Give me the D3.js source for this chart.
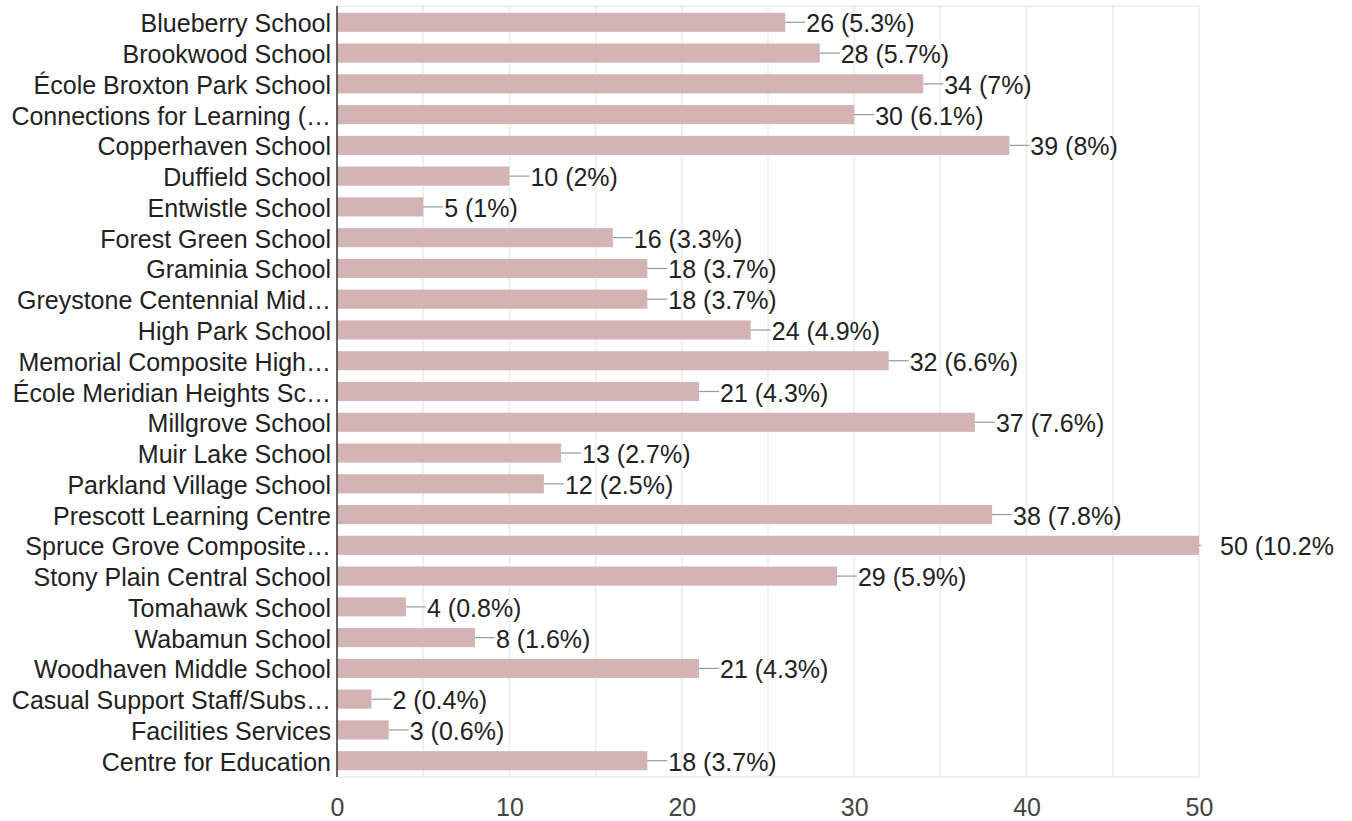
<!DOCTYPE html>
<html><head><meta charset="utf-8">
<script src="https://cdn.jsdelivr.net/npm/d3@7"></script>
<style>body{margin:0;background:#fff}svg{display:block;font-family:"Liberation Sans",Arial,Helvetica,sans-serif}</style>
</head><body><svg id="c" width="1352" height="821"></svg>
<script>
const categories = ["Blueberry School","Brookwood School","École Broxton Park School","Connections for Learning (…","Copperhaven School","Duffield School","Entwistle School","Forest Green School","Graminia School","Greystone Centennial Mid…","High Park School","Memorial Composite High…","École Meridian Heights Sc…","Millgrove School","Muir Lake School","Parkland Village School","Prescott Learning Centre","Spruce Grove Composite…","Stony Plain Central School","Tomahawk School","Wabamun School","Woodhaven Middle School","Casual Support Staff/Subs…","Facilities Services","Centre for Education"];
const values = [26,28,34,30,39,10,5,16,18,18,24,32,21,37,13,12,38,50,29,4,8,21,2,3,18];
const percents = ["5.3%","5.7%","7%","6.1%","8%","2%","1%","3.3%","3.7%","3.7%","4.9%","6.6%","4.3%","7.6%","2.7%","2.5%","7.8%","10.2%","5.9%","0.8%","1.6%","4.3%","0.4%","0.6%","3.7%"];
const xTicks = [0,10,20,30,40,50];
const gridTicks = [5,10,15,20,25,30,35,40,45,50];

(function(){
const svg = d3.select("#c");
const mL = 337, mR = 1199, mT = 6, mB = 777;
const FS = 25;
const x = d3.scaleLinear().domain([0,50]).range([mL,mR]);
const y = d3.scaleBand().domain(categories).range([mT,mB]).paddingInner(0.38).paddingOuter(0.22);

svg.append("defs").append("clipPath").attr("id","clipR")
  .append("rect").attr("x",0).attr("y",0).attr("width",1334).attr("height",821);

svg.append("g").selectAll("line").data(gridTicks).join("line")
  .attr("x1",d=>x(d)).attr("x2",d=>x(d)).attr("y1",mT).attr("y2",mB)
  .attr("stroke","#ebebeb").attr("stroke-width",1.5);
svg.append("line").attr("x1",mL).attr("x2",mR).attr("y1",mT).attr("y2",mT).attr("stroke","#ebebeb").attr("stroke-width",1.5);
svg.append("line").attr("x1",mL).attr("x2",mR).attr("y1",mB).attr("y2",mB).attr("stroke","#ebebeb").attr("stroke-width",1.5);

const data = categories.map((c,i)=>({c, v:values[i], p:percents[i]}));

svg.append("g").selectAll("rect").data(data).join("rect")
  .attr("x",x(0)).attr("y",d=>y(d.c)).attr("width",d=>x(d.v)-x(0)).attr("height",y.bandwidth())
  .attr("fill","#d3b3b3");

svg.append("g").selectAll("line").data(data).join("line")
  .attr("x1",d=>x(d.v)).attr("x2",d=>x(d.v)+(d.v===50?2:20))
  .attr("y1",d=>y(d.c)+y.bandwidth()/2).attr("y2",d=>y(d.c)+y.bandwidth()/2)
  .attr("stroke","#999").attr("stroke-width",1.2);

svg.append("g").attr("clip-path","url(#clipR)").selectAll("text").data(data).join("text")
  .attr("x",d=>x(d.v)+21).attr("y",d=>y(d.c)+y.bandwidth()/2)
  .attr("dy","0.4em").attr("font-size",FS).attr("fill","#222")
  .text(d=>`${d.v} (${d.p})`);

const ya = svg.append("g").attr("transform",`translate(${mL},0)`).call(d3.axisLeft(y).tickSize(0).tickPadding(6));
ya.select(".domain").attr("stroke","#333").attr("stroke-width",1.5).attr("d",`M0,${mT}V${mB}`);
ya.selectAll("text").attr("font-size",FS).attr("fill","#222").attr("dy","0.4em").attr("font-family","Liberation Sans, Arial, sans-serif");

const xa = svg.append("g").attr("transform",`translate(0,${mB})`).call(d3.axisBottom(x).tickValues(xTicks).tickSize(0).tickPadding(21));
xa.select(".domain").remove();
xa.selectAll("text").attr("font-size",FS).attr("fill","#444").attr("font-family","Liberation Sans, Arial, sans-serif");
})();
</script></body></html>
